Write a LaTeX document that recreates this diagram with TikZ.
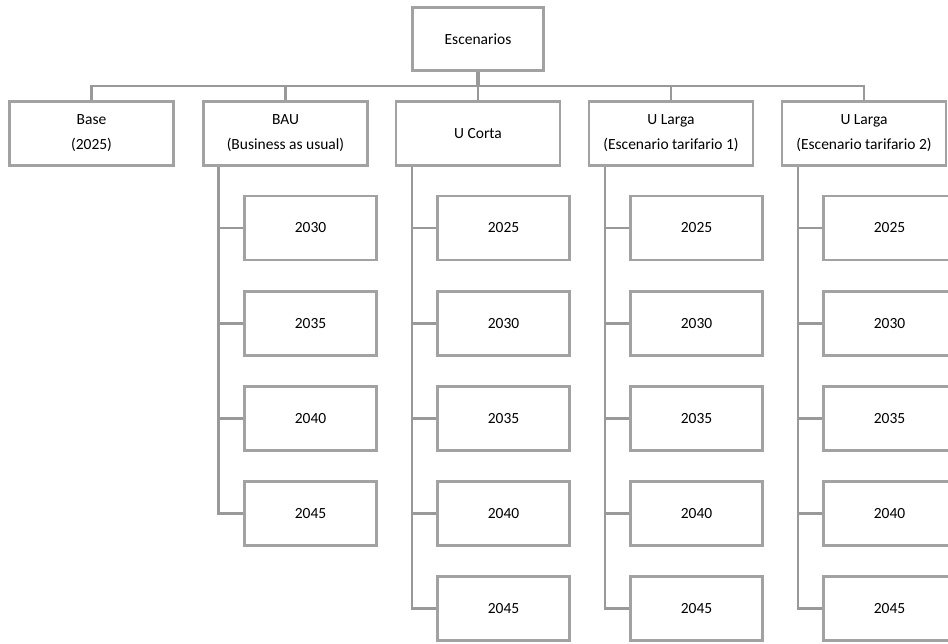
\documentclass[tikz,border=0pt]{standalone}
\usepackage{fontspec}
\setmainfont{Carlito}
\begin{document}
\begin{tikzpicture}[x=1pt,y=-1pt,
  box/.style={draw=boxgray,line width=2.6pt,fill=white,rectangle,inner sep=0pt,align=center,
     font=\fontsize{15.5}{25}\selectfont},
  topbox/.style={box,minimum width=164pt,minimum height=64pt},
  kidbox/.style={box,minimum width=132pt,minimum height=64pt},
  link/.style={draw=linegray,line width=2.6pt},
  trunk/.style={draw=linegray,line width=3.8pt}]
\definecolor{boxgray}{HTML}{A2A2A2}
\definecolor{linegray}{HTML}{999999}
\useasboundingbox (0,0) rectangle (948,643);
\clip (0,0) rectangle (948,643);
\fill[white] (0,0) rectangle (948,643);

\coordinate (bus) at (478,86);
\coordinate (bauS) at (218.5,167);
\coordinate (ucS) at (412,167);
\coordinate (ul1S) at (605,167);
\coordinate (ul2S) at (798,167);

% nodes
\node[box,minimum width=131pt,minimum height=63pt] (esc) at (478,39) {Escenarios};
\node[topbox] (base) at (91.5,133.5) {Base\\(2025)};
\node[topbox] (bau) at (285.5,133.5) {BAU\\(Business as usual)};
\node[topbox] (uc) at (478,133.5) {U Corta};
\node[topbox] (ul1) at (671,133.5) {U Larga\\(Escenario tarifario 1)};
\node[topbox] (ul2) at (864,133.5) {U Larga\\(Escenario tarifario 2)};

% BAU children
\node[kidbox] (bau1) at (310.5,228) {2030};
\node[kidbox] (bau2) at (310.5,323.5) {2035};
\node[kidbox] (bau3) at (310.5,418.5) {2040};
\node[kidbox] (bau4) at (310.5,513.5) {2045};
% U Corta children
\node[kidbox] (uc1) at (503.5,228) {2025};
\node[kidbox] (uc2) at (503.5,323.5) {2030};
\node[kidbox] (uc3) at (503.5,418.5) {2035};
\node[kidbox] (uc4) at (503.5,513.5) {2040};
\node[kidbox] (uc5) at (503.5,608.5) {2045};
% U Larga 1 children
\node[kidbox] (ula1) at (696.5,228) {2025};
\node[kidbox] (ula2) at (696.5,323.5) {2030};
\node[kidbox] (ula3) at (696.5,418.5) {2035};
\node[kidbox] (ula4) at (696.5,513.5) {2040};
\node[kidbox] (ula5) at (696.5,608.5) {2045};
% U Larga 2 children
\node[kidbox] (ulb1) at (889.5,228) {2025};
\node[kidbox] (ulb2) at (889.5,323.5) {2030};
\node[kidbox] (ulb3) at (889.5,418.5) {2035};
\node[kidbox] (ulb4) at (889.5,513.5) {2040};
\node[kidbox] (ulb5) at (889.5,608.5) {2045};

% connectors
\draw[trunk] (esc.south) -- (bus);
\foreach \n in {base,bau,uc,ul1,ul2}{\draw[link] (\n.north) |- (bus);}
\foreach \k in {1,2,3,4}{\draw[link] (bauS) |- (bau\k.west);}
\foreach \k in {1,2,3,4,5}{\draw[link] (ucS) |- (uc\k.west);}
\foreach \k in {1,2,3,4,5}{\draw[link] (ul1S) |- (ula\k.west);}
\foreach \k in {1,2,3,4,5}{\draw[link] (ul2S) |- (ulb\k.west);}
\end{tikzpicture}
\end{document}
